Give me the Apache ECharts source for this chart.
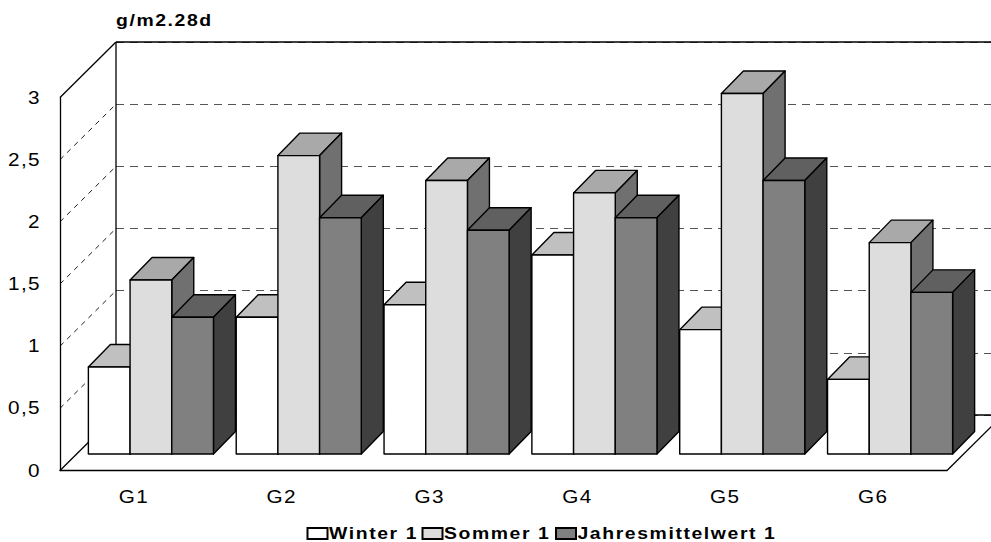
<!DOCTYPE html>
<html>
<head>
<meta charset="utf-8">
<title>Staubniederschlag</title>
<script src="https://cdn.jsdelivr.net/npm/echarts@6/dist/echarts.min.js"></script>
<style>
  html, body { margin: 0; padding: 0; background: #fff; }
  #chart { width: 991px; height: 542px; }
</style>
</head>
<body>
<div id="chart"></div>
<script>
// Measured values per site (g/m2 over 28 days)
const categories = ['G1', 'G2', 'G3', 'G4', 'G5', 'G6'];
const winter = [0.7, 1.1, 1.2, 1.6, 1.0, 0.6];
const sommer = [1.4, 2.4, 2.2, 2.1, 2.9, 1.7];
const jahresmittel = [1.1, 1.9, 1.8, 1.9, 2.2, 1.3];
const seriesNames = ['Winter 1', 'Sommer 1', 'Jahresmittelwert 1'];
const unitLabel = 'g/m2.28d';
const yTicks = [0, 0.5, 1, 1.5, 2, 2.5, 3];

const FONT = '"Liberation Sans", Arial, Helvetica, sans-serif';

// Oblique 3D layout: the front plane holds the axes, the bars stand in a
// plane pushed back by BAR_GAP, and the back wall sits DEPTH behind the front.
const FRONT = { left: 60, top: 97.5, width: 887, height: 373 };
const DEPTH = [56, -55.5];
const BAR_GAP = [17, -16.5];
const BAR_DEPTH = [22, -22.5];
const BAR_FRACTION = 0.282;

function shifted(g, d) {
  return { left: g.left + d[0], top: g.top + d[1], width: g.width, height: g.height };
}

// Face shading for each series: front, top, right side
const faces = [
  { front: '#ffffff', top: '#c0c0c0', side: '#969696' },
  { front: '#dddddd', top: '#a9a9a9', side: '#707070' },
  { front: '#808080', top: '#606060', side: '#404040' }
];

const EDGE = { stroke: '#000', lineWidth: 1.4, lineJoin: 'round' };

function barSeries(idx, values) {
  const f = faces[idx];
  return {
    type: 'custom',
    name: seriesNames[idx],
    xAxisIndex: 1,
    yAxisIndex: 1,
    clip: false,
    z: 3,
    itemStyle: { color: f.front, borderColor: '#000', borderWidth: 1 },
    data: values.map((v, i) => [i, v]),
    renderItem(params, api) {
      const c = api.value(0), v = api.value(1);
      const band = api.size([1, 0])[0];
      const w = band * BAR_FRACTION;
      const base = api.coord([c, 0]);
      const top = api.coord([c, v]);
      const xl = base[0] + (idx - 1.5) * w;
      const xr = xl + w;
      const yb = base[1], yt = top[1];
      const dx = BAR_DEPTH[0], dy = BAR_DEPTH[1];
      return {
        type: 'group',
        children: [
          { type: 'polygon', shape: { points: [[xl, yt], [xr, yt], [xr + dx, yt + dy], [xl + dx, yt + dy]] },
            style: Object.assign({ fill: f.top }, EDGE) },
          { type: 'polygon', shape: { points: [[xr, yt], [xr + dx, yt + dy], [xr + dx, yb + dy], [xr, yb]] },
            style: Object.assign({ fill: f.side }, EDGE) },
          { type: 'rect', shape: { x: xl, y: yt, width: w, height: yb - yt },
            style: Object.assign({ fill: f.front }, EDGE) }
        ]
      };
    }
  };
}

// Walls and floor outline, plus the dashed lines running across the side wall
const frameSeries = {
  type: 'custom',
  xAxisIndex: 0,
  yAxisIndex: 0,
  clip: false,
  silent: true,
  z: 1,
  data: yTicks.map(v => [0, v]),
  renderItem(params, api) {
    const cs = params.coordSys;
    const v = api.value(1);
    const y = api.coord([0, v])[1];
    const x0 = cs.x, x1 = cs.x + cs.width;
    const yBottom = cs.y + cs.height;
    const dx = DEPTH[0], dy = DEPTH[1];
    const isEdge = (v === yTicks[0] || v === yTicks[yTicks.length - 1]);
    const children = [{
      type: 'line',
      shape: { x1: x0, y1: y, x2: x0 + dx, y2: y + dy },
      style: isEdge ? { stroke: '#000', lineWidth: 1.3 }
                    : { stroke: '#000', lineWidth: 0.9, lineDash: [5, 5] }
    }];
    if (params.dataIndex === 0) {
      const line = (a, b, c, d) => ({ type: 'line', shape: { x1: a, y1: b, x2: c, y2: d },
                                       style: { stroke: '#000', lineWidth: 1.3 } });
      // back wall border
      children.push(line(x0 + dx, cs.y + dy, x0 + dx, yBottom + dy));
      children.push(line(x0 + dx, cs.y + dy, x1 + dx, cs.y + dy));
      // floor back and right edges
      children.push(line(x0 + dx, yBottom + dy, x1 + dx, yBottom + dy));
      children.push(line(x1, yBottom, x1 + dx, yBottom + dy));
    }
    return { type: 'group', children };
  }
};

function legendFor(name, left) {
  return {
    data: [{ name, icon: 'rect' }],
    left, top: 525, padding: 0,
    itemWidth: 20, itemHeight: 11,
    selectedMode: false,
    textStyle: { fontFamily: FONT, fontSize: 17, fontWeight: 'bold', color: '#000',
                 padding: [0, 0, 0, -3.5] }
  };
}

const chart = echarts.init(document.getElementById('chart'), null, { renderer: 'svg' });

chart.setOption({
  backgroundColor: '#fff',
  animation: false,
  title: {
    text: unitLabel, left: 116, top: 12, padding: 0,
    textStyle: { fontFamily: FONT, fontSize: 17, fontWeight: 'bold', color: '#000' }
  },
  legend: [
    legendFor(seriesNames[0], 306.5),
    legendFor(seriesNames[1], 421.5),
    legendFor(seriesNames[2], 555)
  ],
  grid: [FRONT, shifted(FRONT, BAR_GAP), shifted(FRONT, DEPTH)],
  xAxis: [
    { type: 'category', gridIndex: 0, data: categories,
      axisLine: { lineStyle: { color: '#000', width: 1.4 } },
      axisTick: { show: false },
      axisLabel: { margin: 17.5, fontFamily: FONT, fontSize: 18, color: '#000' } },
    { type: 'category', gridIndex: 1, data: categories, show: false },
    { type: 'category', gridIndex: 2, data: categories, show: false }
  ],
  yAxis: [
    { type: 'value', gridIndex: 0, min: 0, max: 3, interval: 0.5,
      axisLine: { show: true, lineStyle: { color: '#000', width: 1.3 } },
      axisTick: { show: false },
      splitLine: { show: false },
      axisLabel: { margin: 19, fontFamily: FONT, fontSize: 18, color: '#000',
                   formatter: v => String(v).replace('.', ',') } },
    { type: 'value', gridIndex: 1, min: 0, max: 3, interval: 0.5, show: false },
    { type: 'value', gridIndex: 2, min: 0, max: 3, interval: 0.5,
      axisLine: { show: false }, axisTick: { show: false }, axisLabel: { show: false },
      splitLine: { show: true, lineStyle: { color: '#555', width: 1, type: [8, 6] } } }
  ],
  series: [
    frameSeries,
    barSeries(0, winter),
    barSeries(1, sommer),
    barSeries(2, jahresmittel)
  ]
});

// Wide, slightly stretched lettering
function widenText() {
  chart.getDom().querySelectorAll('svg text').forEach(t => {
    const fw = getComputedStyle(t).fontWeight;
    const bold = fw === 'bold' || parseInt(fw, 10) >= 600;
    t.removeAttribute('textLength');
    t.removeAttribute('lengthAdjust');
    t.style.letterSpacing = (bold ? 1.4 : 1.2) + 'px';
    const len = t.getComputedTextLength();
    if (len > 0) {
      t.setAttribute('textLength', (len * (bold ? 1.14 : 1.15)).toFixed(2));
      t.setAttribute('lengthAdjust', 'spacingAndGlyphs');
    }
  });
}
chart.on('finished', widenText);
widenText();
</script>
</body>
</html>
